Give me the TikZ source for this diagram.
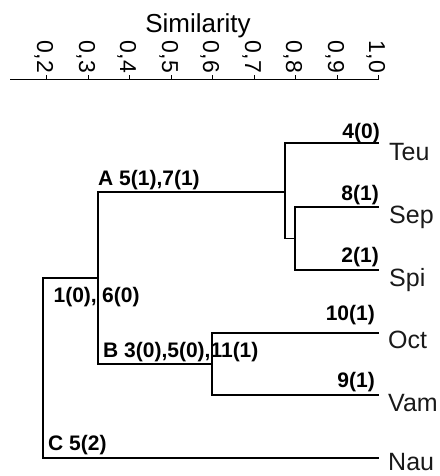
\documentclass[tikz,border=0pt]{standalone}
\usepackage{fontspec}
\setmainfont{Liberation Sans}
\begin{document}
\begin{tikzpicture}[x=1pt,y=-1pt,
  branch/.style={line width=1.8pt,line cap=rect},
  axisline/.style={line width=1pt},
  lab/.style={font=\fontsize{21}{21}\selectfont\bfseries,inner sep=0pt},
  leaf/.style={font=\fontsize{25}{25}\selectfont,inner sep=0pt,anchor=base west,text=black!90},
  ticklab/.style={font=\fontsize{23}{23}\selectfont,inner sep=0pt,rotate=-90,anchor=base east}]
\useasboundingbox (0,0) rectangle (439,476);
% axis
\node[font=\fontsize{26}{26}\selectfont,inner sep=0pt,anchor=base] (sim) at (198,33) {Similarity};
\coordinate (axL) at (10,80);
\coordinate (axR) at (378,80);
\draw[axisline] (axL) -- (axR);
\foreach \a/\b/\x in {0/2/46,0/3/88,0/4/129,0/5/171,0/6/212,0/7/254,0/8/295,0/9/337,1/0/378}{
  \draw[axisline] (\x,80) -- (\x,75.5);
  \node[ticklab] at (\x-9,73) {\a,\b};
}
% leaves
\coordinate (teu) at (378,143);
\coordinate (sep) at (378,207);
\coordinate (spi) at (378,270);
\coordinate (oct) at (378,333);
\coordinate (vam) at (378,395);
\coordinate (nau) at (378,458);
\node[leaf] (lteu) at (389,160) {Teu};
\node[leaf] (lsep) at (389,223) {Sep};
\node[leaf] (lspi) at (389,286) {Spi};
\node[leaf] (loct) at (388,348) {Oct};
\node[leaf] (lvam) at (388,411) {Vam};
\node[leaf] (lnau) at (388,470) {Nau};
% internal nodes
\coordinate (ss) at (295,238.5);
\coordinate (tss) at (285,192);
\coordinate (ov) at (212,364);
\coordinate (ab) at (98,278);
\coordinate (root) at (43,458);
% branches
\draw[branch] (spi) -| (ss |- sep) -- (sep);
\draw[branch] (teu) -| (tss |- ss) -- (ss);
\draw[branch] (oct) -| (ov |- vam) -- (vam);
\draw[branch] (tss) -| (ab |- ov) -- (ov);
\draw[branch] (ab) -| (root |- nau) -- (nau);
% character labels
\node[lab,anchor=base east] (l40) at (380,138) {4(0)};
\node[lab,anchor=base east] (l81) at (379,200) {8(1)};
\node[lab,anchor=base east] (l21) at (379,262) {2(1)};
\node[lab,anchor=base east] (l101) at (375,320) {10(1)};
\node[lab,anchor=base east] (l91) at (375,387) {9(1)};
\node[lab,anchor=base west] (lA) at (98,185) {A 5(1),7(1)};
\node[lab,anchor=base east] (l10) at (97,302) {1(0),};
\node[lab,anchor=base west] (l60) at (102,302) {6(0)};
\node[lab,anchor=base west] (lB) at (103,357) {B 3(0),5(0),11(1)};
\node[lab,anchor=base west] (lC) at (48,450) {C 5(2)};
\end{tikzpicture}
\end{document}
